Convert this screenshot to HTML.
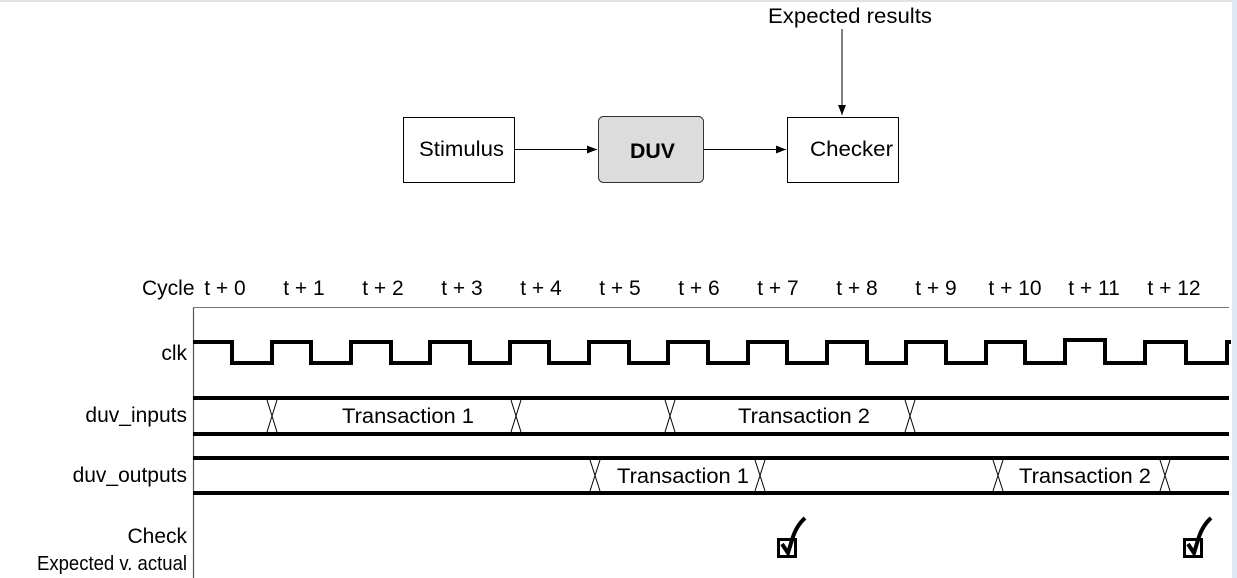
<!DOCTYPE html>
<html><head><meta charset="utf-8"><style>
html,body{margin:0;padding:0;background:#fff;width:1237px;height:578px;overflow:hidden}
svg{display:block;font-family:"Liberation Sans",Arial,sans-serif}
</style></head><body>
<svg width="1237" height="578" viewBox="0 0 1237 578">
<defs><marker id="a" markerWidth="10" markerHeight="8" refX="10" refY="4" orient="auto" markerUnits="userSpaceOnUse"><path d="M0,0 L10,4 L0,8 z" fill="#000"/></marker></defs>
<rect x="0" y="0" width="1237" height="2" fill="#dde3ea"/>
<rect x="1232" y="0" width="5" height="578" fill="#dfe8f3"/>
<text x="768" y="23" font-size="21" textLength="164" lengthAdjust="spacingAndGlyphs">Expected results</text>
<line x1="842" y1="29" x2="842" y2="115" stroke="#000" stroke-width="1" marker-end="url(#a)"/>
<rect x="403.5" y="117.5" width="111" height="65" fill="#fff" stroke="#000"/>
<text x="419" y="156" font-size="21" textLength="85" lengthAdjust="spacingAndGlyphs">Stimulus</text>
<rect x="598.5" y="116.5" width="105" height="66" rx="5" fill="#dcdcdc" stroke="#333"/>
<text x="630" y="158" font-size="21" font-weight="bold" textLength="45" lengthAdjust="spacingAndGlyphs">DUV</text>
<rect x="787.5" y="117.5" width="111" height="65" fill="#fff" stroke="#000"/>
<text x="810" y="156" font-size="21" textLength="83" lengthAdjust="spacingAndGlyphs">Checker</text>
<line x1="515" y1="149.5" x2="597" y2="149.5" stroke="#000" marker-end="url(#a)"/>
<line x1="704" y1="149.5" x2="786" y2="149.5" stroke="#000" marker-end="url(#a)"/>
<g font-size="21">
<text x="142" y="295">Cycle</text>
<g text-anchor="middle">
<text x="225" y="295">t + 0</text><text x="304" y="295">t + 1</text><text x="383" y="295">t + 2</text><text x="462" y="295">t + 3</text><text x="541" y="295">t + 4</text><text x="620" y="295">t + 5</text><text x="699" y="295">t + 6</text><text x="778" y="295">t + 7</text><text x="857" y="295">t + 8</text><text x="936" y="295">t + 9</text><text x="1015" y="295">t + 10</text><text x="1094" y="295">t + 11</text><text x="1174" y="295">t + 12</text>
</g>
<g text-anchor="end">
<text x="187" y="360">clk</text>
<text x="187" y="422">duv_inputs</text>
<text x="187" y="482">duv_outputs</text>
<text x="187" y="543">Check</text>
<text x="187" y="570" font-size="20" textLength="150" lengthAdjust="spacingAndGlyphs">Expected v. actual</text>
</g>
</g>
<line x1="193.5" y1="307" x2="193.5" y2="578" stroke="#555" stroke-width="1.2"/>
<line x1="193" y1="307.5" x2="1229" y2="307.5" stroke="#777" stroke-width="1"/>
<polyline fill="none" stroke="#000" stroke-width="4" points="193,342 232,342 232,363 272,363 272,342 311,342 311,363 351,363 351,342 391,342 391,363 430,363 430,342 470,342 470,363 510,363 510,342 549,342 549,363 589,363 589,342 629,342 629,363 668,363 668,342 708,342 708,363 748,363 748,342 787,342 787,363 827,363 827,342 867,342 867,363 906,363 906,342 946,342 946,363 986,363 986,342 1025,342 1025,363 1065,363 1065,340 1105,340 1105,363 1145,363 1145,342 1186,342 1186,363 1227,363 1227,342 1231,342"/>
<line x1="193" y1="398" x2="1229" y2="398" stroke="#000" stroke-width="4"/>
<line x1="193" y1="434" x2="1229" y2="434" stroke="#000" stroke-width="4"/>
<line x1="193" y1="458" x2="1229" y2="458" stroke="#000" stroke-width="4"/>
<line x1="193" y1="493" x2="1229" y2="493" stroke="#000" stroke-width="4"/>
<g stroke="#000" stroke-width="1" fill="none">
<path d="M267,400 L277,432 M277,400 L267,432"/>
<path d="M511,400 L521,432 M521,400 L511,432"/>
<path d="M665,400 L675,432 M675,400 L665,432"/>
<path d="M905,400 L915,432 M915,400 L905,432"/>
<path d="M590,460 L600,491 M600,460 L590,491"/>
<path d="M755,460 L765,491 M765,460 L755,491"/>
<path d="M993,460 L1003,491 M1003,460 L993,491"/>
<path d="M1160,460 L1170,491 M1170,460 L1160,491"/>
</g>
<g font-size="21">
<text x="342" y="423" textLength="132" lengthAdjust="spacingAndGlyphs">Transaction 1</text>
<text x="738" y="423" textLength="132" lengthAdjust="spacingAndGlyphs">Transaction 2</text>
<text x="617" y="483" textLength="132" lengthAdjust="spacingAndGlyphs">Transaction 1</text>
<text x="1019" y="483" textLength="132" lengthAdjust="spacingAndGlyphs">Transaction 2</text>
</g>
<g stroke="#000" fill="none">
<rect x="778.5" y="539.5" width="17" height="17" stroke-width="3"/>
<path d="M782,544 L788,553 L792,540 Q796,526 805,518" stroke-width="4"/>
<rect x="1184.5" y="539.5" width="17" height="17" stroke-width="3"/>
<path d="M1188,544 L1194,553 L1198,540 Q1202,526 1211,518" stroke-width="4"/>
</g>
</svg>
</body></html>
